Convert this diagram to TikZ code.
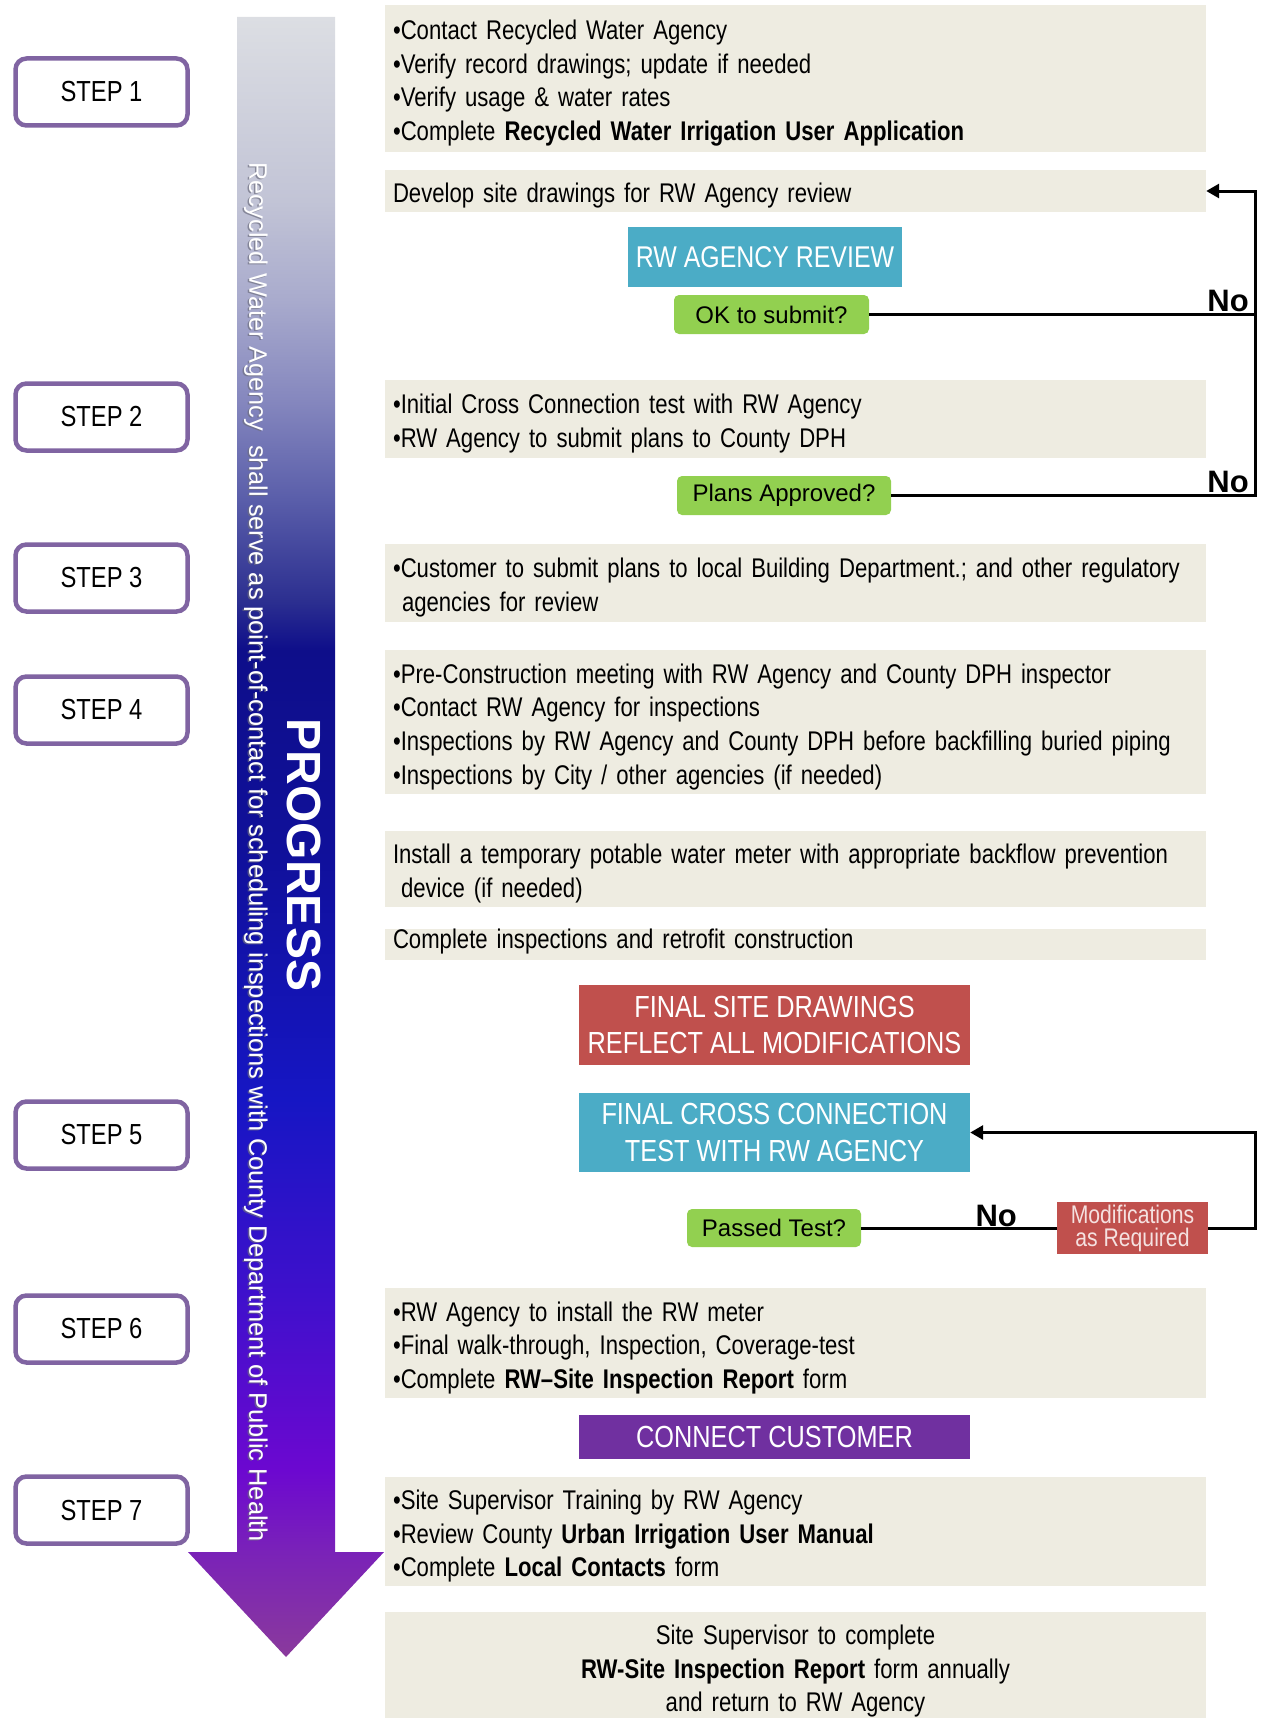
\documentclass[tikz,border=0pt]{standalone}
\usepackage{fontspec}
\setmainfont{Liberation Sans}[FakeStretch=0.82]
\newfontfamily\titlefont{Liberation Sans}[FakeStretch=0.83]
\newfontfamily\plainfont{Liberation Sans}
\usetikzlibrary{arrows.meta}
\hyphenpenalty=10000
\exhyphenpenalty=10000

\definecolor{panelgray}{HTML}{EEECE1}
\definecolor{stepline}{HTML}{8064A2}
\definecolor{reviewteal}{HTML}{4BACC6}
\definecolor{querygreen}{HTML}{92D050}
\definecolor{finalred}{HTML}{C0504D}
\definecolor{modpink}{HTML}{F5E1E0}
\definecolor{connectpurple}{HTML}{7030A0}
\definecolor{shadowgray}{HTML}{6E6F80}
% progress arrow, from the tip (bottom) to the top
\definecolor{pgA}{HTML}{8A3A9C}
\definecolor{pgB}{HTML}{7A22B8}
\definecolor{pgC}{HTML}{6C08D0}
\definecolor{pgD}{HTML}{4010CC}
\definecolor{pgE}{HTML}{1616C4}
\definecolor{pgF}{HTML}{10109A}
\definecolor{pgG}{HTML}{0E0E8A}
\definecolor{pgH}{HTML}{2C2F90}
\definecolor{pgI}{HTML}{5A5EAA}
\definecolor{pgJ}{HTML}{8587BE}
\definecolor{pgK}{HTML}{A9ABCD}
\definecolor{pgL}{HTML}{C2C4D6}
\definecolor{pgM}{HTML}{DCDEE3}
\pgfdeclareverticalshading{progressfill}{100bp}{color(0bp)=(pgA); color(25bp)=(pgA);
  color(28.2bp)=(pgB); color(30.7bp)=(pgC); color(35.9bp)=(pgD); color(42bp)=(pgE);
  color(49.6bp)=(pgF); color(55.7bp)=(pgG); color(57.2bp)=(pgH); color(60.3bp)=(pgI);
  color(63.3bp)=(pgJ); color(66.4bp)=(pgK); color(69.4bp)=(pgL); color(75bp)=(pgM);
  color(100bp)=(pgM)}

\begin{document}
\begin{tikzpicture}[x=1pt, y=-1pt,
stepbox/.style={draw=stepline, line width=4.5pt, rounded corners=11pt, fill=white,
  minimum width=172pt, minimum height=67pt, font=\fontsize{29pt}{31pt}\selectfont},
panel/.style={fill=panelgray, minimum width=821pt, text width=805pt, inner xsep=8pt,
  inner ysep=0pt, align=left, text height=29pt, font=\fontsize{27pt}{33.7pt}\selectfont},
titlebox/.style={text=white, inner sep=0pt, align=center, minimum width=391pt,
  font=\titlefont\fontsize{30.5pt}{36.5pt}\selectfont},
query/.style={fill=querygreen, rounded corners=5pt, inner sep=0pt,
  font=\plainfont\fontsize{24pt}{26pt}\selectfont},
nolabel/.style={inner sep=0pt, font=\plainfont\bfseries\fontsize{31pt}{33pt}\selectfont},
sidetext/.style={rotate=-90, inner sep=0pt, font=\plainfont\fontsize{25.3pt}{27pt}\selectfont},
link/.style={line width=3pt},
loopback/.style={link, -{Triangle[length=13pt, width=14pt]}},
]
\useasboundingbox (0,0) rectangle (1261,1718);

% progress arrow
\shade[shading=progressfill] (237,17) -- (335,17) -- (335,1552) -- (384,1552)
  -- (286,1657) -- (188,1552) -- (237,1552) -- cycle;
\node[sidetext, text=shadowgray, opacity=0.7] (contactshadow) at (254.5,853)
  {Recycled Water Agency\ \ shall serve as point-of-contact for scheduling inspections with County Department of Public Health};
\node[sidetext, text=white] (contact) at (256,852)
  {Recycled Water Agency\ \ shall serve as point-of-contact for scheduling inspections with County Department of Public Health};
\node[rotate=-90, text=white, inner sep=0pt, font=\plainfont\bfseries\fontsize{48pt}{50pt}\selectfont]
  (progress) at (304,855) {PROGRESS};

% steps
\node[stepbox] (step1) at (101.5,92) {STEP 1};
\node[stepbox] (step2) at (101.5,417) {STEP 2};
\node[stepbox] (step3) at (101.5,578) {STEP 3};
\node[stepbox] (step4) at (101.5,710) {STEP 4};
\node[stepbox] (step5) at (101.5,1135) {STEP 5};
\node[stepbox] (step6) at (101.5,1329) {STEP 6};
\node[stepbox] (step7) at (101.5,1510) {STEP 7};

% tasks
\node[panel, minimum height=147pt] (apply) at (795.5,78.5)
  {•Contact Recycled Water Agency\\
   •Verify record drawings; update if needed\\
   •Verify usage \& water rates\\
   •Complete \textbf{Recycled Water Irrigation User Application}};
\node[panel, minimum height=42pt] (develop) at (795.5,191)
  {Develop site drawings for RW Agency review};
\node[titlebox, fill=reviewteal, minimum width=274pt, minimum height=60pt,
  font=\titlefont\fontsize{30pt}{32pt}\selectfont] (review) at (765,257) {RW AGENCY REVIEW};
\node[query, minimum width=195pt, minimum height=39pt] (oksubmit) at (771.5,314.5) {OK to submit?};
\node[panel, minimum height=78pt] (crosstest) at (795.5,419)
  {•Initial Cross Connection test with RW Agency\\
   •RW Agency to submit plans to County DPH};
\node[query, minimum width=214pt, minimum height=39pt] (approved) at (784,495.5) {Plans Approved?};
\node[panel, minimum height=78pt] (building) at (795.5,583)
  {•Customer to submit plans to local Building Department.; and other regulatory\\
   \hspace*{9pt}agencies for review};
\node[panel, minimum height=144pt] (inspect) at (795.5,722)
  {•Pre-Construction meeting with RW Agency and County DPH inspector\\
   •Contact RW Agency for inspections\\
   •Inspections by RW Agency and County DPH before backfilling buried piping\\
   •Inspections by City / other agencies (if needed)};
\node[panel, minimum height=76pt] (meter) at (795.5,869)
  {Install a temporary potable water meter with appropriate backflow prevention\\
   \hspace*{8pt}device (if needed)};
\node[panel, minimum height=31pt, text height=13pt, text depth=6pt] (retrofit) at (795.5,944.5)
  {Complete inspections and retrofit construction};
\node[titlebox, fill=finalred, minimum height=80pt] (finalsite) at (774.5,1025)
  {FINAL SITE DRAWINGS\\REFLECT ALL MODIFICATIONS};
\node[titlebox, fill=reviewteal, minimum height=79pt] (finalcross) at (774.5,1132.5)
  {FINAL CROSS CONNECTION\\TEST WITH RW AGENCY};
\node[query, minimum width=174pt, minimum height=38pt] (passed) at (774,1228) {Passed Test?};
\node[titlebox, fill=finalred, text=modpink, minimum width=151pt, minimum height=52pt,
  font=\titlefont\fontsize{25.5pt}{23pt}\selectfont] (mods) at (1132.5,1228) {Modifications\\as Required};
\node[panel, minimum height=110pt] (install) at (795.5,1343)
  {•RW Agency to install the RW meter\\
   •Final walk-through, Inspection, Coverage-test\\
   •Complete \textbf{RW–Site Inspection Report} form};
\node[titlebox, fill=connectpurple, minimum height=44pt] (connect) at (774.5,1437) {CONNECT CUSTOMER};
\node[panel, minimum height=109pt] (training) at (795.5,1531.5)
  {•Site Supervisor Training by RW Agency\\
   •Review County \textbf{Urban Irrigation User Manual}\\
   •Complete \textbf{Local Contacts} form};
\node[panel, align=center, minimum height=109pt] (annual) at (795.5,1666.5)
  {Site Supervisor to complete\\
   \textbf{RW-Site Inspection Report} form annually\\
   and return to RW Agency};

% loops back
\coordinate (rail) at (1255,0);
\draw[loopback] (oksubmit.east) -- (oksubmit.east -| rail) |- (develop.east);
\draw[link] (approved.east) -- (approved.east -| rail) -- (oksubmit.east -| rail);
\node[nolabel, anchor=base east] (no1) at (1249,311) {No};
\node[nolabel, anchor=base east] (no2) at (1249,492) {No};
\draw[link] (passed.east) -- node[nolabel, pos=0.69, anchor=base, yshift=2pt] (no3) {No} (mods.west);
\draw[loopback] (mods.east) -- (mods.east -| rail) |- (finalcross.east);
\end{tikzpicture}
\end{document}
